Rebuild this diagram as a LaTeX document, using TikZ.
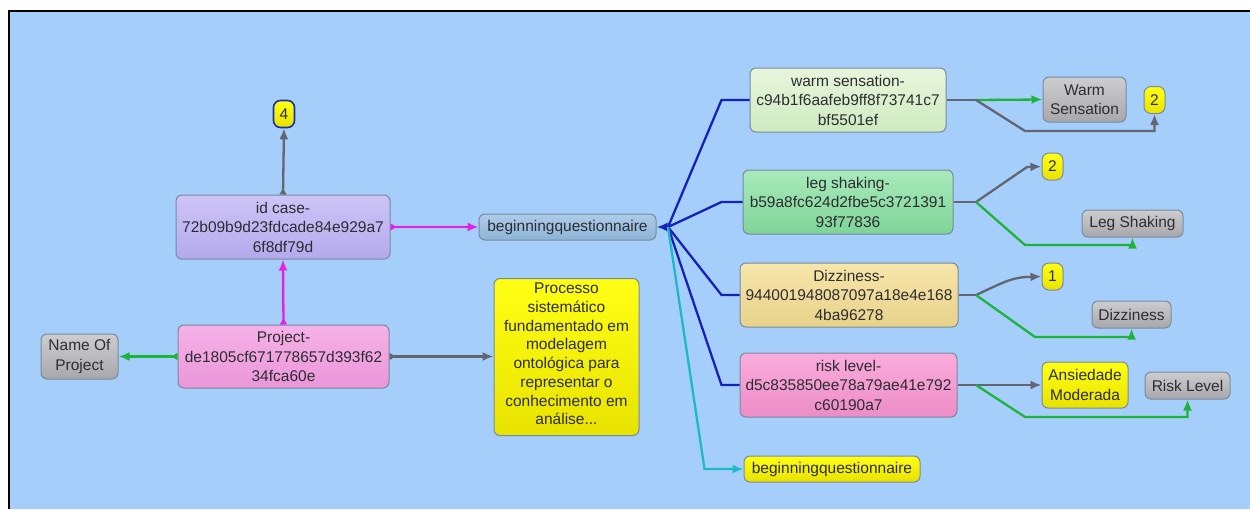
\documentclass[tikz,border=0pt]{standalone}
\usepackage{fontspec}
\setmainfont{Liberation Sans}
\usetikzlibrary{arrows.meta}
\definecolor{bgblue}{RGB}{166,206,250}
\definecolor{edge}{RGB}{120,138,158}
\definecolor{txt}{RGB}{45,45,50}
\definecolor{lgrey}{RGB}{98,101,114}
\definecolor{lmag}{RGB}{232,30,232}
\definecolor{lgreen}{RGB}{30,180,60}
\definecolor{lblue}{RGB}{20,34,184}
\definecolor{lcyan}{RGB}{30,185,200}
\tikzset{
  box/.style={draw=edge, line width=1pt, rounded corners=6pt, align=center,
    inner sep=0pt, text=txt, font=\fontsize{15.5}{19.5}\selectfont},
  lavender/.style={box, top color={rgb,255:red,205;green,196;blue,247}, bottom color={rgb,255:red,180;green,170;blue,236}},
  pinkbox/.style={box, top color={rgb,255:red,246;green,178;blue,232}, bottom color={rgb,255:red,234;green,150;blue,216}},
  rosebox/.style={box, top color={rgb,255:red,250;green,172;blue,220}, bottom color={rgb,255:red,236;green,140;blue,198}},
  palegreen/.style={box, top color={rgb,255:red,232;green,246;blue,220}, bottom color={rgb,255:red,206;green,234;blue,192}},
  midgreen/.style={box, top color={rgb,255:red,168;green,234;blue,186}, bottom color={rgb,255:red,126;green,212;blue,152}},
  sand/.style={box, top color={rgb,255:red,247;green,230;blue,170}, bottom color={rgb,255:red,232;green,210;blue,138}},
  yel/.style={box, top color={rgb,255:red,255;green,255;blue,20}, bottom color={rgb,255:red,232;green,226;blue,0}},
  greybox/.style={box, top color={rgb,255:red,205;green,205;blue,208}, bottom color={rgb,255:red,168;green,168;blue,172}},
  bluebox/.style={box, top color={rgb,255:red,172;green,204;blue,232}, bottom color={rgb,255:red,140;green,180;blue,214}},
  badge/.style={yel, minimum width=21pt, minimum height=27pt, rounded corners=7pt},
  conn/.style={line width=2.3pt},
  tip/.style={-{Latex[length=11pt,width=9pt]}},
  bothtip/.style={{Latex[reversed,length=7pt,width=8pt]}-{Latex[length=11pt,width=9pt]}},
}
\begin{document}
\begin{tikzpicture}[x=1pt,y=-1pt]
\useasboundingbox (0,0) rectangle (1250,509);
% canvas with its frame on the top and left edges
\fill[white] (0,0) rectangle (1250,509);
\fill[bgblue] (9,11) rectangle (1250,509);
\draw[black, line width=2pt] (9,509) -- (9,11) -- (1250,11);

% left part
\node[badge, draw={rgb,255:red,30;green,45;blue,160}, line width=1.6pt] (four) at (284,114) {4};
\node[lavender, minimum width=214pt, minimum height=64pt] (idcase) at (283,227) {id case-\\72b09b9d23fdcade84e929a7\\6f8df79d};
\node[pinkbox, minimum width=211pt, minimum height=63pt] (project) at (283.5,356.5) {Project-\\de1805cf671778657d393f62\\34fca60e};
\node[greybox, minimum width=77pt, minimum height=45pt] (nameproj) at (79.5,356.5) {Name Of\\Project};
\node[bluebox, minimum width=177pt, minimum height=26pt] (bq) at (567.5,227) {beginningquestionnaire};
\node[yel, minimum width=145pt, minimum height=157pt, anchor=north] (proc) at (566.5,278) {};
\node[anchor=north, align=center, text=txt, font=\fontsize{15.5}{18.7}\selectfont, inner sep=0pt] (proctext) at ([yshift=-5pt]proc.north)
  {Processo\\sistemático\\fundamentado em\\modelagem\\ontológica para\\representar o\\conhecimento em\\análise...};

% questionnaire items
\node[palegreen, minimum width=196pt, minimum height=64pt] (warm) at (848,100) {warm sensation-\\c94b1f6aafeb9ff8f73741c7\\bf5501ef};
\node[midgreen, minimum width=210pt, minimum height=64pt] (leg) at (848,202) {leg shaking-\\b59a8fc624d2fbe5c3721391\\93f77836};
\node[sand, minimum width=218pt, minimum height=64pt] (dizz) at (849,295) {Dizziness-\\944001948087097a18e4e168\\4ba96278};
\node[rosebox, minimum width=217pt, minimum height=64pt] (risk) at (848.5,385) {risk level-\\d5c835850ee78a79ae41e792\\c60190a7};
\node[yel, minimum width=176pt, minimum height=26pt] (bqtwo) at (832,469) {beginningquestionnaire};

% values and labels
\node[greybox, minimum width=83pt, minimum height=45pt] (warmS) at (1084.5,99.5) {Warm\\Sensation};
\node[badge] (twoA) at (1154.5,100) {2};
\node[badge] (twoB) at (1052.5,166.5) {2};
\node[greybox, minimum width=101pt, minimum height=27pt] (legS) at (1132.5,223.5) {Leg Shaking};
\node[badge] (one) at (1052.5,276.5) {1};
\node[greybox, minimum width=79pt, minimum height=27pt] (dizzS) at (1131.5,314.5) {Dizziness};
\node[yel, minimum width=86pt, minimum height=46pt] (ans) at (1085,385) {Ansiedade\\Moderada};
\node[greybox, minimum width=85pt, minimum height=27pt] (riskS) at (1187.5,385.5) {Risk Level};

% left connectors
\draw[conn, lgrey, bothtip] (idcase.north) -- (four.south);
\draw[conn, lmag, bothtip] (project.north) -- (idcase.south);
\draw[conn, lmag, bothtip] (idcase.east) -- (bq.west);
\draw[conn, lgreen, bothtip] (project.west) -- (nameproj.east);
\draw[conn, lgrey, bothtip] (project.east) -- (proc.west |- project.east);

% items gathered into the questionnaire
\coordinate (hub) at (668,227);
\draw[conn, lblue] (warm.west) -- ++(-28,0) -- (hub);
\draw[conn, lblue] (leg.west) -- ++(-21,0) -- (hub);
\draw[conn, lblue] (dizz.west) -- ++(-18,0) -- (hub);
\draw[conn, lblue] (risk.west) -- ++(-18,0) -- (hub);
\draw[conn, lblue, tip] (hub) -- (bq.east);
\draw[conn, lcyan, tip] (hub) -- ([xshift=-39pt]bqtwo.west) -- (bqtwo.west);

% warm sensation
\coordinate (wj) at (976,100);
\draw[conn, lgrey] (warm.east) -- (wj);
\draw[conn, lgreen, tip] (wj) -- (warmS.west);
\draw[conn, lgrey, tip] (wj) -- (1025,131) -| (twoA.south);

% leg shaking
\coordinate (lj) at (976,202);
\draw[conn, lgrey] (leg.east) -- (lj);
\draw[conn, lgrey, tip] (lj) -- (1027,167) -- (twoB.west);
\draw[conn, lgreen, tip] (lj) -- (1025,245) -| (legS.south);

% dizziness
\coordinate (dj) at (976,295);
\draw[conn, lgrey] (dizz.east) -- (dj);
\draw[conn, lgrey, tip] (dj) .. controls (1000,284) and (1012,277) .. (1028,277) -- (one.west);
\draw[conn, lgreen, tip] (dj) -- (1035,337) -| (dizzS.south);

% risk level
\coordinate (rj) at (976,385);
\draw[conn, lgrey, tip] (risk.east) -- (ans.west);
\draw[conn, lgreen, tip] (rj) -- (1025,417) -| (riskS.south);
\end{tikzpicture}
\end{document}
